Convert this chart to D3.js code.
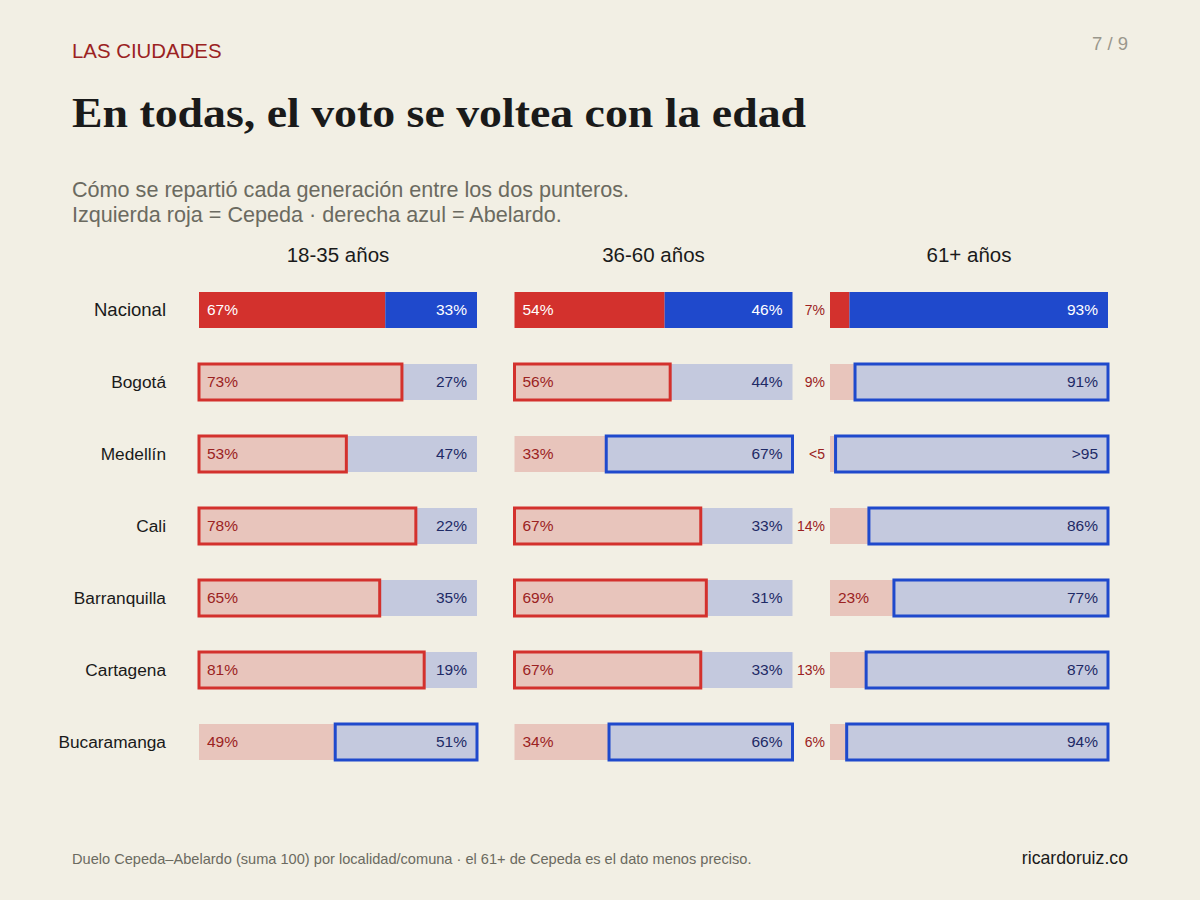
<!DOCTYPE html>
<html>
<head>
<meta charset="utf-8">
<script src="https://cdn.jsdelivr.net/npm/d3@7"></script>
<style>
  html, body { margin: 0; padding: 0; background: #f2efe4; }
  svg { display: block; }
</style>
</head>
<body>
<div id="chart"></div>
<script>
const ages = ['18-35 años', '36-60 años', '61+ años'];
const cities = ['Nacional', 'Bogotá', 'Medellín', 'Cali', 'Barranquilla', 'Cartagena', 'Bucaramanga'];
// Cepeda share (left, red) per age group; Abelardo = 100 - value
const young = [67, 73, 53, 78, 65, 81, 49];
const middle = [54, 56, 33, 67, 69, 67, 34];
const senior = [7, 9, 2, 14, 23, 13, 6];
// labels that are not plain percentages
const customLabels = { 'Medellín|61+ años': ['<5', '>95'] };

const width = 1200;
const height = 900;
const C = {
  bg: '#f2efe4',
  red: '#d3312d',
  blue: '#1f49cc',
  paleRed: '#e8c5bc',
  paleBlue: '#c4c9de',
  redText: '#9b2222',
  blueText: '#1e2a66',
  ink: '#1a1a1a',
  gray: '#6b6a60'
};
const sans = '"Liberation Sans", Arial, sans-serif';

const svg = d3.select('#chart').append('svg')
  .attr('width', width).attr('height', height)
  .attr('viewBox', `0 0 ${width} ${height}`);
svg.append('rect').attr('width', width).attr('height', height).attr('fill', C.bg);

// header
svg.append('text').attr('x', 72).attr('y', 58).attr('font-family', sans).attr('font-size', 20.4)
  .attr('fill', C.redText).text('LAS CIUDADES');
svg.append('text').attr('x', 1128).attr('y', 50).attr('text-anchor', 'end').attr('font-family', sans)
  .attr('font-size', 18.5).attr('fill', '#9a978c').text('7 / 9');
svg.append('text').attr('x', 72).attr('y', 127)
  .attr('font-family', '"Liberation Serif", "DejaVu Serif", serif').attr('font-weight', 'bold')
  .attr('font-size', 42).attr('fill', C.ink)
  .attr('textLength', 734).attr('lengthAdjust', 'spacingAndGlyphs')
  .text('En todas, el voto se voltea con la edad');
svg.append('text').attr('x', 72).attr('y', 197).attr('font-family', sans).attr('font-size', 21.6)
  .attr('fill', C.gray).text('Cómo se repartió cada generación entre los dos punteros.');
svg.append('text').attr('x', 72).attr('y', 222).attr('font-family', sans).attr('font-size', 21.6)
  .attr('fill', C.gray).text('Izquierda roja = Cepeda · derecha azul = Abelardo.');

const panel = d3.scaleBand().domain(ages).range([199, 1108]).paddingInner(37.5 / 315.5).paddingOuter(0);
const y = d3.scalePoint().domain(cities).range([310, 742]);
const barH = 36;
const x = d3.scaleLinear().domain([0, 100]).range([0, panel.bandwidth()]);

const rows = [];
[young, middle, senior].forEach((vals, ai) => {
  vals.forEach((v, ci) => {
    rows.push({ age: ages[ai], city: cities[ci], red: v, blue: 100 - v, national: ci === 0 });
  });
});

svg.append('g').selectAll('text').data(ages).join('text')
  .attr('x', (d) => panel(d) + panel.bandwidth() / 2).attr('y', 262)
  .attr('text-anchor', 'middle').attr('font-family', sans).attr('font-size', 20.5)
  .attr('fill', C.ink).text((d) => d);

svg.append('g').selectAll('text').data(cities).join('text')
  .attr('x', 166).attr('y', (d) => y(d)).attr('dy', '0.35em')
  .attr('text-anchor', 'end').attr('font-family', sans)
  .attr('font-size', (d, i) => (i === 0 ? 18.5 : 17.3))
  .attr('fill', C.ink).text((d) => d);

const g = svg.append('g').selectAll('g').data(rows).join('g')
  .attr('transform', (d) => `translate(${panel(d.age)},${y(d.city) - barH / 2})`);

g.append('rect').attr('x', 0).attr('y', 0).attr('height', barH)
  .attr('width', (d) => x(d.red))
  .attr('fill', (d) => (d.national ? C.red : C.paleRed));
g.append('rect').attr('x', (d) => x(d.red)).attr('y', 0).attr('height', barH)
  .attr('width', (d) => x(d.blue))
  .attr('fill', (d) => (d.national ? C.blue : C.paleBlue));

// winner outline
g.filter((d) => !d.national).append('rect')
  .attr('x', (d) => (d.red > 50 ? 0 : x(d.red)))
  .attr('y', 0).attr('height', barH)
  .attr('width', (d) => (d.red > 50 ? x(d.red) : x(d.blue)))
  .attr('fill', 'none').attr('stroke-width', 3)
  .attr('stroke', (d) => (d.red > 50 ? C.red : C.blue));

const labelOf = (d, side) => {
  const custom = customLabels[`${d.city}|${d.age}`];
  if (custom) return side === 'red' ? custom[0] : custom[1];
  return `${side === 'red' ? d.red : d.blue}%`;
};

g.append('text')
  .attr('x', (d) => (d.red < 15 ? -5 : 8))
  .attr('y', barH / 2).attr('dy', '0.35em')
  .attr('text-anchor', (d) => (d.red < 15 ? 'end' : 'start'))
  .attr('font-family', sans)
  .attr('font-size', (d) => (d.red < 15 ? 14 : 15.5))
  .attr('fill', (d) => (d.national && d.red >= 15 ? '#fff' : C.redText))
  .text((d) => labelOf(d, 'red'));

g.append('text')
  .attr('x', panel.bandwidth() - 10)
  .attr('y', barH / 2).attr('dy', '0.35em')
  .attr('text-anchor', 'end').attr('font-family', sans).attr('font-size', 15.5)
  .attr('fill', (d) => (d.national ? '#fff' : C.blueText))
  .text((d) => labelOf(d, 'blue'));

// footer
svg.append('text').attr('x', 72).attr('y', 864).attr('font-family', sans).attr('font-size', 14.6)
  .attr('fill', C.gray)
  .text('Duelo Cepeda–Abelardo (suma 100) por localidad/comuna · el 61+ de Cepeda es el dato menos preciso.');
svg.append('text').attr('x', 1128).attr('y', 864).attr('text-anchor', 'end').attr('font-family', sans)
  .attr('font-size', 17.7).attr('fill', C.ink).text('ricardoruiz.co');
</script>
</body>
</html>
